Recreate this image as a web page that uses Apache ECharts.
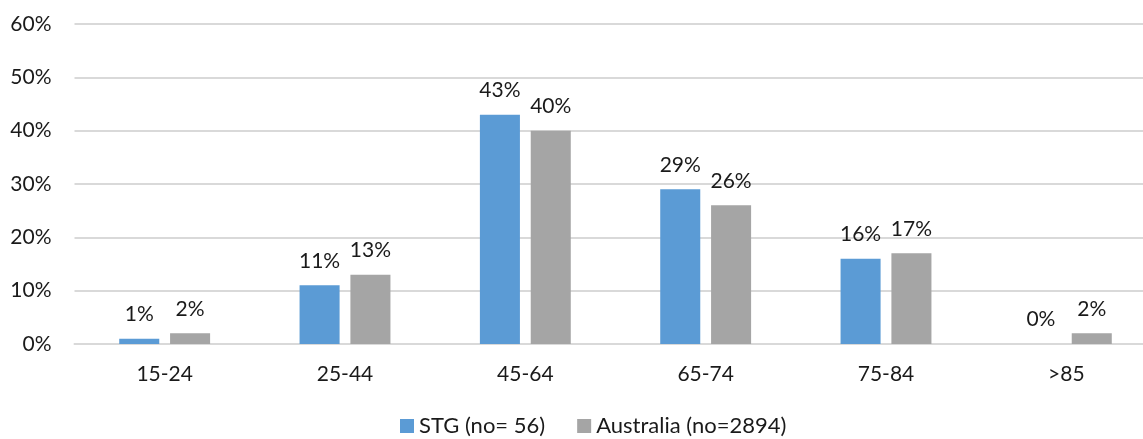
<!DOCTYPE html>
<html>
<head>
<meta charset="utf-8">
<script src="https://cdn.jsdelivr.net/npm/echarts@6/dist/echarts.min.js"></script>
<style>
  html, body { margin: 0; padding: 0; background: #fff; overflow: hidden; }
  #chart { width: 1143px; height: 439px; }
</style>
</head>
<body>
<div id="chart"></div>
<script>
// Age groups and share of patients per group (%)
const ageGroups = ['15-24', '25-44', '45-64', '65-74', '75-84', '>85'];
const stgValues = [1, 11, 43, 29, 16, 0];
const australiaValues = [2, 13, 40, 26, 17, 2];
const seriesNames = ['STG (no= 56)', 'Australia (no=2894)'];
const yTicks = { min: 0, max: 60, step: 10 };

const FONT = 'Lato, "Open Sans", sans-serif';
const TEXT = '#1a1a1a';
const chart = echarts.init(document.getElementById('chart'));

const labelStyle = {
  show: true,
  position: 'top',
  distance: 14,
  formatter: '{c}%',
  color: TEXT,
  fontSize: 21,
  fontFamily: FONT
};

chart.setOption({
  animation: false,
  textStyle: { fontFamily: FONT },
  // plot area runs a little past the right edge of the canvas
  grid: {
    left: 74.5, top: 24, width: 1082, height: 320,
    containLabel: false, outerBoundsMode: 'none'
  },
  legend: {
    data: seriesNames,
    left: 400,
    top: 415,
    padding: 0,
    itemWidth: 14,
    itemHeight: 14,
    itemGap: 32,
    icon: 'rect',
    textStyle: { fontSize: 22, color: TEXT, fontFamily: FONT }
  },
  xAxis: {
    type: 'category',
    data: ageGroups,
    axisLine: { lineStyle: { color: '#d9d9d9', width: 2 } },
    axisTick: { show: false },
    axisLabel: { margin: 20, fontSize: 21, color: TEXT, fontFamily: FONT }
  },
  yAxis: {
    type: 'value',
    min: yTicks.min,
    max: yTicks.max,
    interval: yTicks.step,
    axisLine: { show: false },
    axisTick: { show: false },
    splitLine: { lineStyle: { color: '#d9d9d9', width: 2 } },
    axisLabel: { formatter: '{value}%', margin: 23, fontSize: 21, color: TEXT, fontFamily: FONT }
  },
  series: [
    {
      name: seriesNames[0],
      type: 'bar',
      data: stgValues,
      barWidth: '22.2%',
      barGap: '27%',
      itemStyle: { color: '#5b9bd5' },
      label: labelStyle
    },
    {
      name: seriesNames[1],
      type: 'bar',
      data: australiaValues,
      barWidth: '22.2%',
      barGap: '27%',
      itemStyle: { color: '#a5a5a5' },
      label: labelStyle
    }
  ]
});
</script>
</body>
</html>
